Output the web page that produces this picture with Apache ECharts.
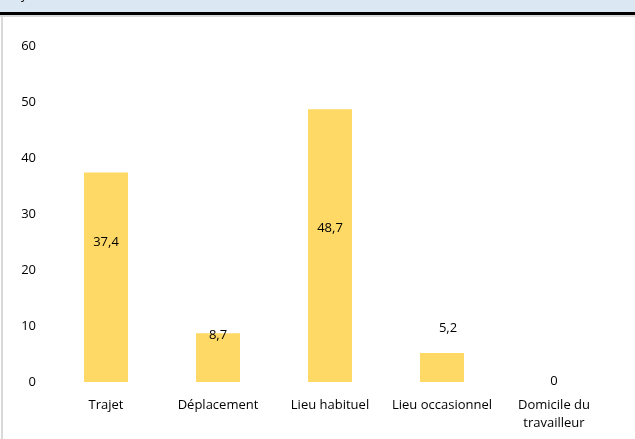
<!DOCTYPE html>
<html><head><meta charset="utf-8">
<script src="https://cdn.jsdelivr.net/npm/echarts@6/dist/echarts.min.js"></script>
<style>html,body{margin:0;padding:0;background:#fff}#c{width:635px;height:439px}</style>
</head><body><div id="c"></div>
<script>
const categories = ['Trajet', 'Déplacement', 'Lieu habituel', 'Lieu occasionnel', 'Domicile du\ntravailleur'];
const values = [37.4, 8.7, 48.7, 5.2, 0];
const yTicks = [0, 10, 20, 30, 40, 50, 60];
const labelOffsets = [[0, 58], [0, -9], [0, 108], [6, -36], [0, -12]];

const chart = echarts.init(document.getElementById('c'), null, {renderer: 'canvas'});
const font = "'Open Sans', 'Liberation Sans', sans-serif";
chart.setOption({
  animation: false,
  backgroundColor: '#ffffff',
  graphic: [
    {type: 'rect', shape: {x: 0, y: 0, width: 635, height: 12}, style: {fill: '#DCE7F4'}, z: 10},
    {type: 'rect', shape: {x: 0, y: 12, width: 635, height: 3}, style: {fill: '#000'}, z: 10},
    {type: 'rect', shape: {x: 0, y: 15, width: 635, height: 2}, style: {fill: '#d9d9d9'}, z: 10},
    {type: 'rect', shape: {x: 1, y: 15, width: 2, height: 424}, style: {fill: '#d9d9d9'}, z: 10},
    {type: 'text', x: 21, y: -10, style: {text: 'y', font: '12px ' + font, fill: '#000'}, z: 11}
  ],
  grid: {left: 50, right: 25, top: 46, bottom: 57, containLabel: false},
  xAxis: {
    type: 'category', data: categories,
    axisLine: {show: false}, axisTick: {show: false},
    axisLabel: {color: '#000', fontFamily: font, fontSize: 13, margin: 14, lineHeight: 18, interval: 0}
  },
  yAxis: {
    type: 'value', min: 0, max: 60, interval: 10,
    splitLine: {show: false}, axisLine: {show: false}, axisTick: {show: false},
    axisLabel: {color: '#000', fontFamily: font, fontSize: 13, margin: 14,
      formatter: v => yTicks.includes(v) ? String(v) : ''}
  },
  series: [{
    type: 'bar', barWidth: 44,
    itemStyle: {color: '#FFD966'},
    data: values.map((v, i) => ({
      value: v,
      label: {offset: labelOffsets[i]}
    })),
    label: {
      show: true, position: 'insideTop', color: '#000', fontFamily: font, fontSize: 13,
      formatter: p => String(p.value).replace('.', ',')
    }
  }]
});
</script></body></html>
